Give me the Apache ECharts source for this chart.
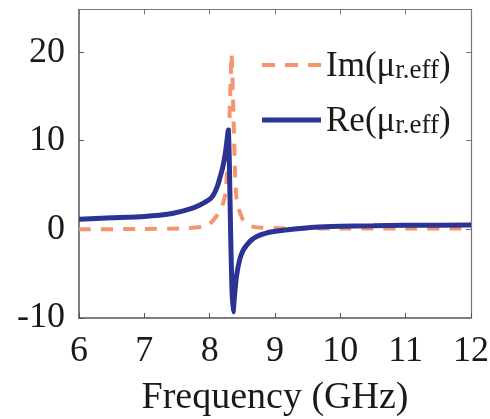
<!DOCTYPE html>
<html>
<head>
<meta charset="utf-8">
<script src="https://cdn.jsdelivr.net/npm/echarts@6/dist/echarts.min.js"></script>
<style>
  html, body { margin: 0; padding: 0; background: #fff; }
  #chart { width: 490px; height: 419px; }
</style>
</head>
<body>
<div id="chart"></div>
<script>
// Effective relative permeability of the resonator, real and imaginary parts
const freqRe = [6.0, 6.5, 7.0, 7.4, 7.7, 7.85, 8.0, 8.06, 8.12, 8.16, 8.2, 8.24, 8.27, 8.285, 8.30, 8.32, 8.34, 8.36, 8.38, 8.41, 8.46, 8.51, 8.57, 8.64, 8.72, 8.85, 8.98, 9.3, 9.6, 10.0, 10.5, 11.0, 12.0];
const reMu   = [1.15, 1.3, 1.45, 1.75, 2.3, 2.75, 3.4, 3.9, 4.9, 5.9, 7.0, 8.6, 10.3, 11.2, 8.0, 0.0, -6.5, -9.3, -7.5, -5.3, -3.4, -2.4, -1.75, -1.2, -0.8, -0.45, -0.25, 0.05, 0.25, 0.35, 0.4, 0.45, 0.5];

const freqIm = [6.0, 7.0, 7.6, 7.9, 8.0, 8.1, 8.18, 8.24, 8.28, 8.31, 8.335, 8.36, 8.39, 8.41, 8.44, 8.51, 8.6, 8.69, 9.0, 10.0, 11.0, 12.0];
const imMu   = [0.0, 0.05, 0.1, 0.3, 0.6, 1.45, 2.4, 4.0, 8.0, 14.0, 19.8, 14.0, 6.0, 3.5, 2.4, 1.1, 0.5, 0.25, 0.15, 0.1, 0.1, 0.1];

const xTicks = { min: 6, max: 12, interval: 1 };
const yTicks = { min: -10, max: 24.8, interval: 10 };

const seriesNames = ['Im', 'Re'];
const legendParts = { Im: ['Im(μ', 'r.eff', ')'], Re: ['Re(μ', 'r.eff', ')'] };

const serif = '"Liberation Serif", "DejaVu Serif", serif';
const blue = '#2B3494';
const orange = '#F5956F';

// legend keys: a three-dash stroke and a solid stroke
const legendIcons = {
  Im: 'path://M0,0H13V4H0Z M23,0H36V4H23Z M46,0H59V4H46Z',
  Re: 'path://M0,0H59V5H0Z'
};

const toPairs = (xs, ys) => xs.map((x, i) => [x, ys[i]]);

const richLegend = {
  m: { fontSize: 35, fontFamily: serif, color: '#1a1a1a', verticalAlign: 'bottom', lineHeight: 38 },
  s: { fontSize: 27, fontFamily: serif, color: '#1a1a1a', verticalAlign: 'bottom', lineHeight: 19 }
};
const legendFormatter = name => {
  const p = legendParts[name];
  return '{m|' + p[0] + '}{s|' + p[1] + '}{m|' + p[2] + '}';
};

const frameColor = '#555';
const chart = echarts.init(document.getElementById('chart'), null, { renderer: 'canvas' });

chart.setOption({
  animation: false,
  backgroundColor: '#fff',
  grid: { left: 79, right: 19, top: 9.5, bottom: 101, outerBoundsMode: 'none', containLabel: false },
  legend: seriesNames.map((n, i) => ({
    data: [{ name: n, icon: legendIcons[n] }],
    left: 257,
    top: i === 0 ? 44 : 99,
    itemWidth: 59,
    itemHeight: i === 0 ? 4 : 5,
    itemGap: 0,
    formatter: legendFormatter,
    textStyle: { fontSize: 35, fontFamily: serif, rich: richLegend },
    selectedMode: false
  })),
  xAxis: [
    {
      type: 'value', min: xTicks.min, max: xTicks.max, interval: xTicks.interval,
      name: 'Frequency (GHz)', nameLocation: 'middle', nameGap: 61,
      nameTextStyle: { fontSize: 38, fontFamily: serif, color: '#1a1a1a' },
      axisLine: { show: true, onZero: false, lineStyle: { color: frameColor, width: 1.5 } },
      axisTick: { show: true, inside: true, length: 5, lineStyle: { color: frameColor } },
      axisLabel: { fontSize: 36, fontFamily: serif, color: '#1a1a1a', margin: 16 },
      splitLine: { show: false }
    },
    {
      type: 'value', position: 'top', min: xTicks.min, max: xTicks.max, interval: xTicks.interval,
      axisLine: { show: true, onZero: false, lineStyle: { color: '#777', width: 1.2 } },
      axisTick: { show: true, inside: true, length: 5, lineStyle: { color: '#777' } },
      axisLabel: { show: false },
      splitLine: { show: false }
    }
  ],
  yAxis: [
    {
      type: 'value', min: yTicks.min, max: yTicks.max, interval: yTicks.interval,
      axisLine: { show: true, onZero: false, lineStyle: { color: frameColor, width: 1.5 } },
      axisTick: { show: true, inside: true, length: 5, lineStyle: { color: frameColor } },
      axisLabel: { fontSize: 36, fontFamily: serif, color: '#1a1a1a', margin: 14, showMaxLabel: false },
      splitLine: { show: false }
    },
    {
      type: 'value', position: 'right', min: yTicks.min, max: yTicks.max, interval: yTicks.interval,
      axisLine: { show: true, onZero: false, lineStyle: { color: '#777', width: 1.2 } },
      axisTick: { show: true, inside: true, length: 5, lineStyle: { color: '#777' } },
      axisLabel: { show: false },
      splitLine: { show: false }
    }
  ],
  series: [
    {
      name: 'Im', type: 'line', xAxisIndex: 0, yAxisIndex: 0,
      data: toPairs(freqIm, imMu), symbol: 'none', smooth: 0.2,
      lineStyle: { color: orange, width: 4, type: [12, 10] },
      itemStyle: { color: orange }, z: 2
    },
    {
      name: 'Re', type: 'line', xAxisIndex: 0, yAxisIndex: 0,
      data: toPairs(freqRe, reMu), symbol: 'none', smooth: 0.2,
      lineStyle: { color: blue, width: 5 },
      itemStyle: { color: blue }, z: 3
    }
  ]
});
</script>
</body>
</html>
